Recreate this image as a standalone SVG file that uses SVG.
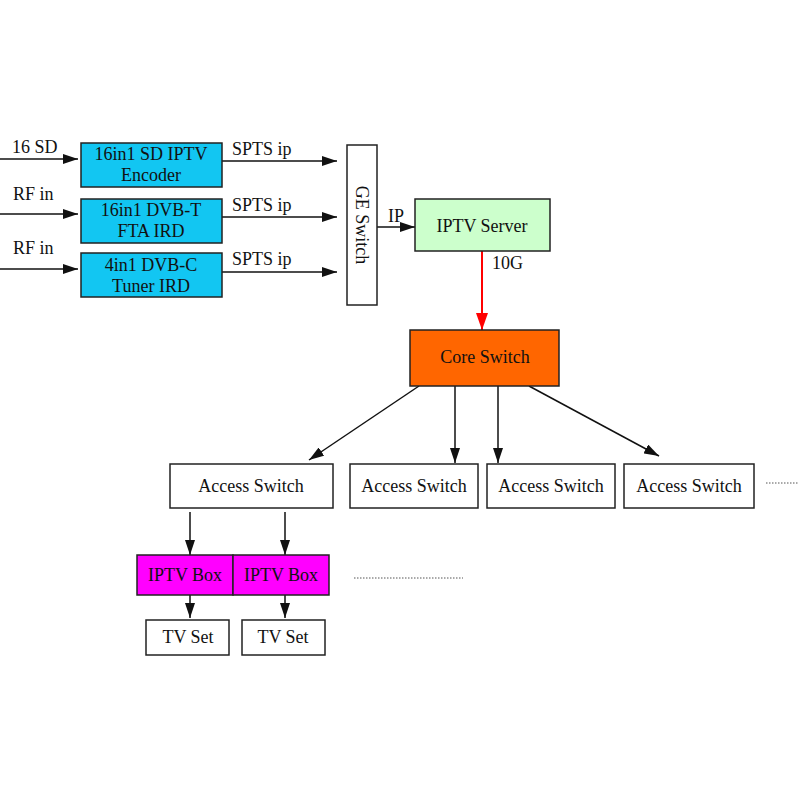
<svg xmlns="http://www.w3.org/2000/svg" width="800" height="800" viewBox="0 0 800 800">
<defs>
<style>
text{font-family:"Liberation Serif","Times New Roman",serif;font-size:18px;fill:#111}
.c{text-anchor:middle}
.box{stroke:#222;stroke-width:1.5}
.w{fill:#fff}
.cyan{fill:#12C6F2}
.green{fill:#CCFFCC}
.orange{fill:#FF6600}
.mag{fill:#FF00FF}
.ln{stroke:#111;stroke-width:1.5;fill:none;marker-end:url(#ah)}
.red{stroke:#FF0000;stroke-width:2;fill:none;marker-end:url(#ahr)}
.dot{stroke:#555;stroke-width:1;stroke-dasharray:1.5 1.5;fill:none}
</style>
<marker id="ah" markerUnits="userSpaceOnUse" markerWidth="15" markerHeight="10" refX="15" refY="5" orient="auto"><path d="M0,0 L15,5 L0,10 z" fill="#111"/></marker>
<marker id="ahr" markerUnits="userSpaceOnUse" markerWidth="17" markerHeight="12" refX="17" refY="6" orient="auto"><path d="M0,0 L17,6 L0,12 z" fill="#FF0000"/></marker>
</defs>
<rect width="800" height="800" fill="#fff"/>

<g id="connectors">
<line class="ln" x1="0" y1="159" x2="78" y2="159"/>
<line class="ln" x1="0" y1="214" x2="78" y2="214"/>
<line class="ln" x1="0" y1="269" x2="78" y2="269"/>
<line class="ln" x1="222" y1="161" x2="337" y2="161"/>
<line class="ln" x1="222" y1="217" x2="337" y2="217"/>
<line class="ln" x1="222" y1="272" x2="337" y2="272"/>
<line class="ln" x1="377" y1="227" x2="415" y2="227"/>
<line class="red" x1="482" y1="251" x2="482" y2="330"/>
<line class="ln" x1="419" y1="386" x2="309" y2="460"/>
<line class="ln" x1="455" y1="386" x2="455" y2="463"/>
<line class="ln" x1="498" y1="386" x2="498" y2="463"/>
<line class="ln" x1="529" y1="386" x2="659" y2="456"/>
<line class="ln" x1="190" y1="512" x2="190" y2="555"/>
<line class="ln" x1="285" y1="512" x2="285" y2="555"/>
<line class="ln" x1="190" y1="595" x2="190" y2="618"/>
<line class="ln" x1="285" y1="595" x2="285" y2="618"/>
<line class="dot" x1="766" y1="483" x2="799" y2="483"/>
<line class="dot" x1="354" y1="578" x2="463" y2="578"/>
<text x="12" y="153">16 SD</text>
<text x="13" y="200">RF in</text>
<text x="13" y="254">RF in</text>
<text x="232" y="155">SPTS ip</text>
<text x="232" y="211">SPTS ip</text>
<text x="232" y="265">SPTS ip</text>
<text x="388" y="222">IP</text>
<text x="492" y="269">10G</text>
</g>

<g id="encoder">
<rect class="box cyan" x="81" y="143" width="141" height="44"/>
<text class="c" x="151" y="160">16in1 SD IPTV</text>
<text class="c" x="151" y="181">Encoder</text>
</g>
<g id="dvbt">
<rect class="box cyan" x="81" y="199" width="141" height="44"/>
<text class="c" x="151" y="216">16in1 DVB-T</text>
<text class="c" x="151" y="237">FTA IRD</text>
</g>
<g id="dvbc">
<rect class="box cyan" x="81" y="253" width="141" height="44"/>
<text class="c" x="151" y="271">4in1 DVB-C</text>
<text class="c" x="151" y="292">Tuner IRD</text>
</g>
<g id="geswitch">
<rect class="box w" x="347" y="145" width="30" height="160"/>
<text class="c" transform="translate(362,225) rotate(90)" x="0" y="6">GE Switch</text>
</g>
<g id="iptvserver">
<rect class="box green" x="415" y="199" width="135" height="52"/>
<text class="c" x="482" y="232">IPTV Server</text>
</g>
<g id="coreswitch">
<rect class="box orange" x="410" y="330" width="149" height="56"/>
<text class="c" x="485" y="363">Core Switch</text>
</g>
<g id="access1">
<rect class="box w" x="170" y="464" width="163" height="44"/>
<text class="c" x="251" y="492">Access Switch</text>
</g>
<g id="access2">
<rect class="box w" x="350" y="464" width="128" height="44"/>
<text class="c" x="414" y="492">Access Switch</text>
</g>
<g id="access3">
<rect class="box w" x="487" y="464" width="128" height="44"/>
<text class="c" x="551" y="492">Access Switch</text>
</g>
<g id="access4">
<rect class="box w" x="624" y="464" width="130" height="44"/>
<text class="c" x="689" y="492">Access Switch</text>
</g>
<g id="iptvbox1">
<rect class="box mag" x="137" y="555" width="96" height="40"/>
<text class="c" x="185" y="581">IPTV Box</text>
</g>
<g id="iptvbox2">
<rect class="box mag" x="233" y="555" width="96" height="40"/>
<text class="c" x="281" y="581">IPTV Box</text>
</g>
<g id="tvset1">
<rect class="box w" x="146" y="620" width="83" height="35"/>
<text class="c" x="188" y="643">TV Set</text>
</g>
<g id="tvset2">
<rect class="box w" x="242" y="620" width="83" height="35"/>
<text class="c" x="283" y="643">TV Set</text>
</g>
</svg>
